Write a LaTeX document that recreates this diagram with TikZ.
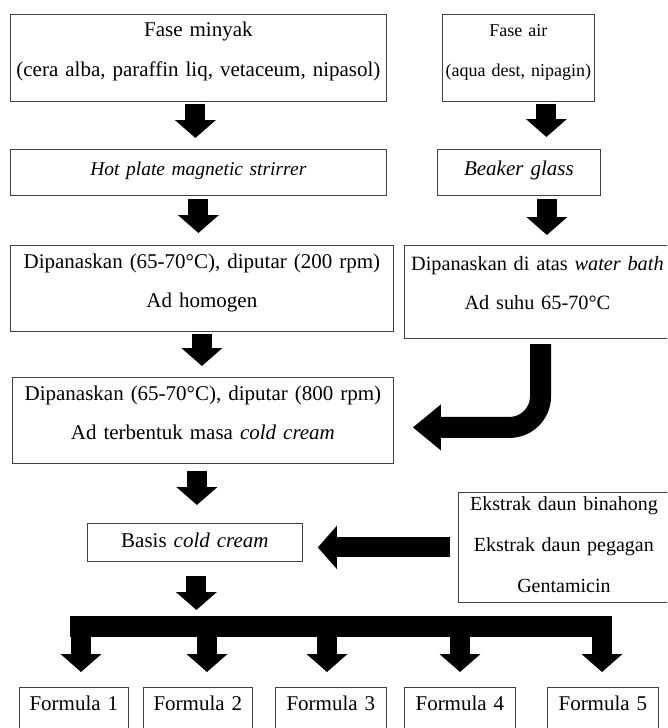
\documentclass[tikz,border=0pt]{standalone}
\usepackage{fontspec}
\setmainfont{Liberation Serif}
\usetikzlibrary{arrows.meta}

\begin{document}
\begin{tikzpicture}[x=1pt, y=-1pt,
    size/.style={font=\fontsize{#1}{39.5}\selectfont},
    size=21,
    box/.style={draw=black!75, line width=0.8pt, anchor=north west, inner sep=0pt, align=center},
    fat/.style={line width=20pt, -{Triangle[length=18pt, width=40pt]}, shorten <=2pt, shorten >=11pt}]
        \clip (0,0) rectangle (667,728);

        % Nodes
        \node[box, text width=376pt, text height=22.5pt, text depth=64.5pt] (OilPhase) at (10,14) {Fase minyak\\(cera alba, paraffin liq, vetaceum, nipasol)};
        \node[box, size=18, text width=152pt, text height=22.5pt, text depth=64.5pt] (WaterPhase) at (442,14) {Fase air\\(aqua dest, nipagin)};
        \node[box, size=19.5, text width=376pt, text height=26pt, text depth=20pt] (HotPlate) at (10,149) {\textit{Hot plate magnetic strirrer}};
        \node[box, text width=163pt, text height=26pt, text depth=20pt] (Beaker) at (437,149) {\textit{Beaker glass}};
        \node[box, text width=383pt, text height=23pt, text depth=63pt] (HeatOil) at (10,245) {Dipanaskan (65-70°C), diputar (200 rpm)\\Ad homogen};
        \node[box, size=20.3, text width=266pt, text height=25pt, text depth=68pt] (HeatWater) at (404,245) {Dipanaskan di atas \textit{water bath}\\Ad suhu 65-70°C};
        \node[box, text width=381pt, text height=23pt, text depth=63pt] (Mixing) at (12,377) {Dipanaskan (65-70°C), diputar (800 rpm)\\Ad terbentuk masa \textit{cold cream}};
        \node[box, text width=215pt, text height=24pt, text depth=14pt] (Basis) at (87,523) {Basis \textit{cold cream}};
        \node[box, font=\fontsize{20}{41}\selectfont, text width=211pt, text height=18pt, text depth=92pt] (Extracts) at (458,492) {Ekstrak daun binahong\\Ekstrak daun pegagan\\Gentamicin};
        \node[box, text width=109pt, text height=23pt, text depth=25pt] (F1) at (19,687) {Formula 1};
        \node[box, text width=109pt, text height=23pt, text depth=25pt] (F2) at (143,687) {Formula 2};
        \node[box, text width=111pt, text height=23pt, text depth=25pt] (F3) at (275,687) {Formula 3};
        \node[box, text width=111pt, text height=23pt, text depth=25pt] (F4) at (404,687) {Formula 4};
        \node[box, text width=111pt, text height=23pt, text depth=25pt] (F5) at (547,687) {Formula 5};

        \coordinate (WaterOut) at (540.5,338);
        \coordinate (BarL) at (70,626.5);
        \coordinate (BarR) at (612,626.5);

        % Arrows
        \draw[fat] ([xshift=-3pt]OilPhase.south) -- ([xshift=-3pt]HotPlate.north);
        \draw[fat, shorten <=3pt, shorten >=12pt] (HotPlate.south) -- (HotPlate.south |- HeatOil.north);
        \draw[fat, shorten >=12pt] ([xshift=28pt]WaterPhase.south) -- ([xshift=28pt]WaterPhase.south |- Beaker.north);
        \draw[fat, shorten <=3pt, shorten >=10pt] ([xshift=28pt]Beaker.south) -- ([xshift=28pt]Beaker.south |- HeatWater.north);
        \draw[fat] (HeatOil.south) -- (HeatOil.south |- Mixing.north);
        \draw[fat, shorten <=7pt, shorten >=18pt] ([xshift=-6pt]Mixing.south) -- ([xshift=-6pt]Mixing.south |- Basis.north);
        \draw[fat, line width=21pt, -{Triangle[length=28pt, width=44pt]}, rounded corners=31pt, shorten <=6pt, shorten >=19pt] (WaterOut) |- ([yshift=-7pt]Mixing.east);
        \draw[fat, -{Triangle[length=19pt, width=42pt]}, shorten <=8pt, shorten >=15pt] (Extracts.west) -- (Extracts.west -| Basis.east);
        \draw[fat, shorten <=14pt, shorten >=16.5pt] ([xshift=1.5pt]Basis.south) -- ([xshift=1.5pt]Basis.south |- BarL);
        \draw[line width=21pt] (BarL) -- (BarR);
        \foreach \i/\x in {1/81, 2/207, 3/327, 4/460, 5/602} {
            \coordinate (Drop\i) at (\x,626.5);
            \draw[fat, shorten <=0pt, shorten >=15pt] (Drop\i) -- (Drop\i |- F\i.north);
        }
    \end{tikzpicture}
\end{document}
